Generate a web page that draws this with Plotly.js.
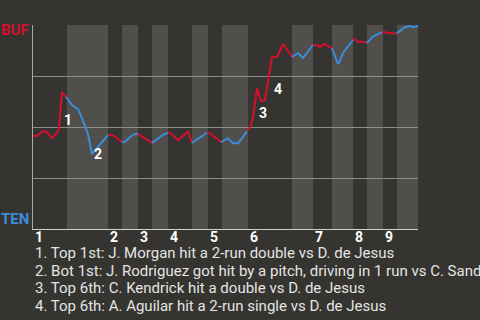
<!DOCTYPE html>
<html>
<head>
<meta charset="utf-8">
<script src="https://cdn.plot.ly/plotly-3.0.1.min.js"></script>
<style>
html,body{margin:0;padding:0;background:#363430;}
#chart{width:480px;height:320px;}
</style>
</head>
<body>
<div id="chart"></div>
<script>
// ---- data ----
const teams = ['BUF', 'TEN'];
const teamColors = ['#d3112e', '#3b8ddb'];
const innings = ['1','2','3','4','5','6','7','8','9'];
// half-inning boundaries in play-progress units (18 half-innings)
const halfStarts = [0,34,75,89,105,119,135,159,175,189,215,259,280,299,320,334,350,364,385];
// play progress and BUF win probability (%)
const playX = [0,4,10,14,19,24,26,29,33, 39,45,49,55,59,65,71,75, 79,84,89, 92,97,102,105, 112,119, 125,130,135,
  137,145,155,159, 167,174, 177,188, 195,200,205,210,214, 217,220,224,228,232,239,244,250,259,
  265,270,275,280, 284,287,291,295,299, 303,305,307,310,317,320, 322,325,330,334, 340,345,349,
  352,357,364, 367,372,377,380,384,385];
const winProb = [45.6,45.6,48.0,47.5,44.6,47.1,49.5,67.2,64.7, 60.8,58.8,54.4,46.6,36.8,40.2,43.6,46.1,
  46.1,44.6,42.6, 42.8,45.1,46.6,46.6, 44.5,42.2, 44.5,46.1,47.2,
  47.2,43.6,47.7,42.2, 45.0,47.2, 46.9,42.6, 44.5,42.0,42.0,45.2,48.0,
  50.0,54.4,69.1,62.7,63.2,84.3,84.3,90.7,84.3, 86.3,83.8,86.8,90.2,
  90.2,89.2,90.7,89.7,88.6, 82.8,80.9,82.4,86.3,90.7,92.6, 93.0,91.8,91.8,91.3,
  94.3,95.6,96.4, 96.4,96.0,96.0, 97.2,98.9,99.5,98.9,99.5,100];
const eventX = [29, 59, 224, 239];
const eventText = [
  '1. Top 1st: J. Morgan hit a 2-run double vs D. de Jesus',
  '2. Bot 1st: J. Rodriguez got hit by a pitch, driving in 1 run vs C. Sand',
  '3. Top 6th: C. Kendrick hit a double vs D. de Jesus',
  '4. Top 6th: A. Aguilar hit a 2-run single vs D. de Jesus'
];

// ---- build ----
const BG = '#363430', BAND = '#504f4c';
function halfOf(x){
  for (let h = 0; h < halfStarts.length - 1; h++) {
    if (x <= halfStarts[h+1]) return h;
  }
  return halfStarts.length - 2;
}
const traces = [];
for (let h = 0; h < halfStarts.length - 1; h++) {
  const xs = [], ys = [];
  for (let i = 0; i < playX.length; i++) {
    if (halfOf(playX[i]) === h) {
      if (xs.length === 0 && i > 0) { xs.push(playX[i-1]); ys.push(winProb[i-1]); }
      xs.push(playX[i]); ys.push(winProb[i]);
    }
  }
  if (xs.length) {
    traces.push({x: xs, y: ys, type: 'scatter', mode: 'lines', hoverinfo: 'skip',
      line: {color: h % 2 === 0 ? teamColors[0] : teamColors[1], width: 2}, showlegend: false});
  }
}

const shapes = [];
for (let h = 1; h < halfStarts.length - 1; h += 2) {
  shapes.push({type: 'rect', xref: 'x', yref: 'paper', x0: halfStarts[h], x1: halfStarts[h+1],
    y0: 0, y1: 1, fillcolor: BAND, line: {width: 0}, layer: 'below'});
}

const annotations = [];
// team labels
annotations.push({xref: 'paper', yref: 'paper', x: 0, y: 1, xanchor: 'right', yanchor: 'middle',
  xshift: -2, yshift: -5, text: teams[0], showarrow: false,
  font: {family: 'Roboto', size: 15, color: teamColors[0], weight: 'bold'}});
annotations.push({xref: 'paper', yref: 'paper', x: 0, y: 0, xanchor: 'right', yanchor: 'middle',
  xshift: -2, yshift: 10, text: teams[1], showarrow: false,
  font: {family: 'Roboto', size: 15, color: teamColors[1], weight: 'bold'}});
// inning labels
innings.forEach((lab, k) => {
  annotations.push({xref: 'x', yref: 'paper', x: halfStarts[2*k], y: 0, xanchor: 'left', yanchor: 'middle',
    yshift: -8, text: lab, showarrow: false,
    font: {family: 'Roboto', size: 14, color: '#ffffff', weight: 'bold'}});
});
// event markers
eventX.forEach((ex, k) => {
  const i = playX.indexOf(ex);
  annotations.push({xref: 'x', yref: 'y', x: ex, y: (winProb[i-1] + winProb[i]) / 2,
    xanchor: 'left', yanchor: 'top', text: String(k + 1), showarrow: false,
    font: {family: 'Roboto', size: 14, color: '#ffffff', weight: 'bold'}});
});
// captions
eventText.forEach((t, k) => {
  annotations.push({xref: 'paper', yref: 'paper', x: 0, y: 0, xanchor: 'left', yanchor: 'middle',
    yshift: -24 - 17.7 * k, text: t, showarrow: false,
    font: {family: 'Roboto', size: 15, color: '#e4e4e4'}});
});

const layout = {
  width: 480, height: 320,
  margin: {l: 33, r: 62, t: 25, b: 91, pad: 0},
  paper_bgcolor: BG, plot_bgcolor: BG,
  showlegend: false,
  xaxis: {range: [0, 385], showgrid: false, zeroline: false, showticklabels: false, ticks: '',
    showline: true, linecolor: '#d0d0d0', linewidth: 1, fixedrange: true},
  yaxis: {range: [0, 100], tickvals: [0, 25, 50, 75, 100], showgrid: true, gridcolor: '#8c8c8c',
    gridwidth: 1, zeroline: false, showticklabels: false, ticks: '',
    showline: true, linecolor: '#a8a8a8', linewidth: 1, fixedrange: true},
  shapes: shapes,
  annotations: annotations
};

Plotly.newPlot('chart', traces, layout, {displayModeBar: false, staticPlot: true});
</script>
</body>
</html>
